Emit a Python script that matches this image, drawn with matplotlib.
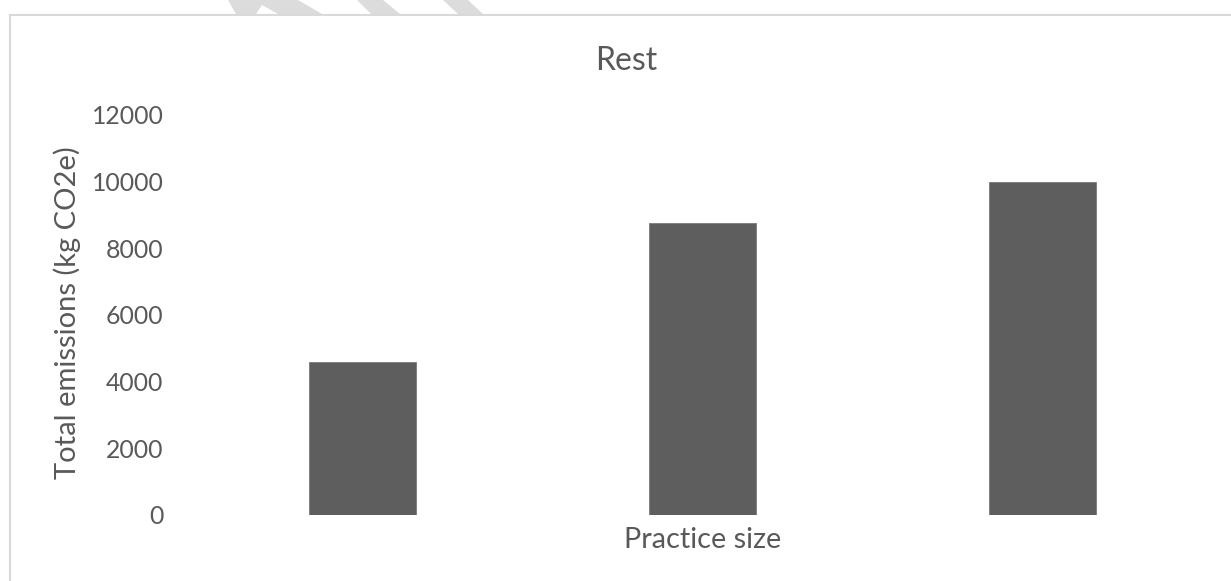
import matplotlib
matplotlib.use("Agg")
import matplotlib.pyplot as plt
from matplotlib.patches import Polygon
from matplotlib.lines import Line2D

# ---- data ----
categories = ["", "", ""]          # category labels are blank in the reference
emissions = [4580, 8770, 9980]      # Total emissions (kg CO2e)
y_ticks = [0, 2000, 4000, 6000, 8000, 10000, 12000]
title = "Rest"
x_label = "Practice size"
y_label = "Total emissions (kg CO2e)"

W, H = 1231, 581
TXT = "#595959"
plt.rcParams["font.family"] = ["Lato", "DejaVu Sans"]

fig = plt.figure(figsize=(W / 100, H / 100), dpi=100)
fig.patch.set_facecolor("white")

def fx(px):
    return px / W

def fy(py):
    return 1 - py / H

# chart-area border (light gray, runs off the right and bottom edges)
border_col = "#d9d9d9"
fig.add_artist(Line2D([fx(9.5), fx(W + 5)], [fy(14.5), fy(14.5)], color=border_col,
                      lw=1.5, transform=fig.transFigure))
fig.add_artist(Line2D([fx(9.5), fx(9.5)], [fy(14.5), fy(H + 5)], color=border_col,
                      lw=1.5, transform=fig.transFigure))

# faint watermark fragments at the top edge
wm = "#dcdcdc"
for pts in [
    [(228, 0), (298, 0), (322, 14), (236, 14)],
    [(357, 0), (383, 0), (400, 14), (371, 14)],
    [(443, 0), (468, 0), (483, 14), (458, 14)],
]:
    fig.add_artist(Polygon([(fx(x), fy(y)) for x, y in pts], closed=True,
                           facecolor=wm, edgecolor="none", transform=fig.transFigure))
fig.add_artist(Polygon([(fx(x), fy(y)) for x, y in [(262, 5), (278, 14), (256, 14)]],
                       closed=True, facecolor="white", edgecolor="none",
                       transform=fig.transFigure))

# plot area
left, right, top, bottom = 192, 1213, 115, 515
ax = fig.add_axes([fx(left), fy(bottom), fx(right - left), (bottom - top) / H])
ax.set_facecolor("none")

x = list(range(len(categories)))
ax.bar(x, emissions, width=0.314, color="#5e5e5e", edgecolor="#7a7a7a", linewidth=0.6)

ax.set_xlim(-0.5, len(categories) - 0.5)
ax.set_ylim(y_ticks[0], y_ticks[-1])
ax.set_yticks(y_ticks)
ax.set_yticklabels([str(v) for v in y_ticks])
ax.set_xticks(x)
ax.set_xticklabels(categories)
for s in ax.spines.values():
    s.set_visible(False)
ax.tick_params(axis="y", length=0, pad=20.5, labelsize=17.8, labelcolor=TXT)
ax.tick_params(axis="x", length=0, labelsize=17.8, labelcolor=TXT)

ax.set_xlabel(x_label, fontsize=20.8, color=TXT, va="baseline")
ax.xaxis.set_label_coords(0.5, (bottom - 548) / (bottom - top))
ax.set_ylabel(y_label, fontsize=21, color=TXT, va="center", ha="center")
ax.yaxis.set_label_coords((66.7 - left) / (right - left), 0.5 + 0.005)

fig.text(fx(626), fy(70), title, fontsize=23, color=TXT, ha="center", va="baseline")

fig.savefig("out.png", dpi=100, facecolor="white")
